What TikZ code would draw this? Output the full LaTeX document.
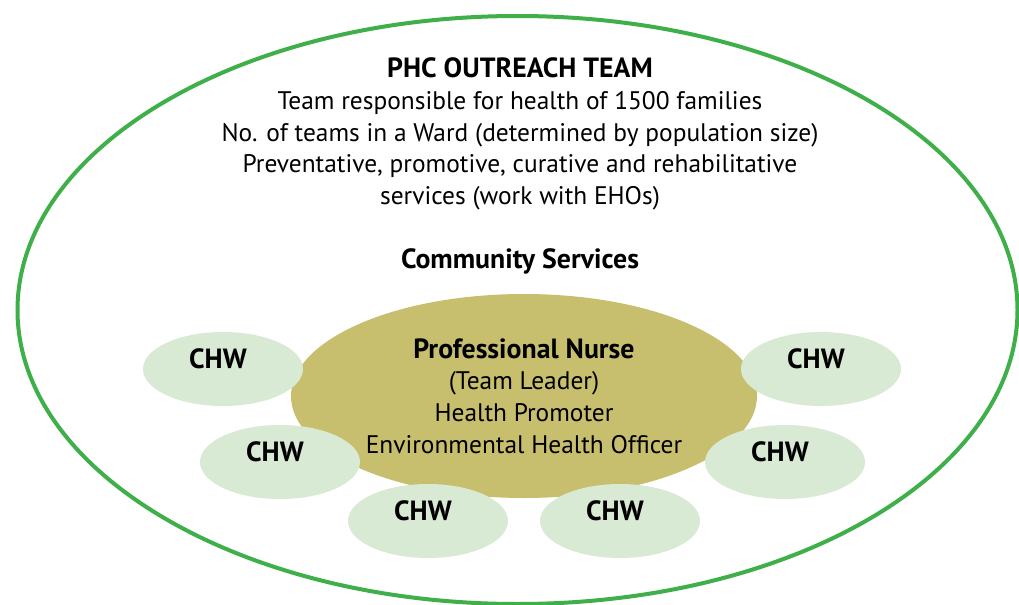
\documentclass[tikz,border=0pt]{standalone}
\usepackage{fontspec}
\setmainfont{PT Sans}
\usetikzlibrary{shapes.geometric}
\usetikzlibrary{positioning}

\definecolor{ringgreen}{RGB}{62,175,73}
\definecolor{nurseolive}{RGB}{199,190,110}
\definecolor{chwgreen}{RGB}{216,233,212}

\newcommand{\headfont}{\bfseries\fontsize{13.9}{15.75}\selectfont}

\begin{document}
\begin{tikzpicture}
    [x=0.5pt,y=-0.5pt,
    ring/.style={ellipse,draw=ringgreen,line width=2pt,inner sep=0pt,
      minimum width=500pt,minimum height=294pt},
    nurse/.style={ellipse,fill=nurseolive,inner sep=0pt,align=center,
      minimum width=233pt,minimum height=102pt,
      font=\fontsize{12.7}{15.9}\selectfont},
    chw/.style={ellipse,fill=chwgreen,inner sep=0pt,
      minimum width=80pt,minimum height=37pt},
    chwtext/.style={font=\headfont,inner sep=0pt,xshift=-2.5pt,yshift=5pt}]

    \useasboundingbox (0,0) rectangle (1019,605);

    \node[ring]    (outreach)  at (517.5,310) {};

    \node[align=center,font=\fontsize{12.7}{15.9}\selectfont]
                   (team)      at (520,134)
      {{\headfont PHC OUTREACH TEAM}\\
       Team responsible for health of 1500 families\\
       No. of teams in a Ward (determined by population size)\\
       Preventative, promotive, curative and rehabilitative\\
       services (work with EHOs)};

    \node[font=\headfont]
                   (community) at (520,261) {Community Services};

    \node[nurse]   (nurse)     at (524,396)
      {{\headfont Professional Nurse}\\
       (Team Leader)\\
       Health Promoter\\
       Environmental Health Officer};

    % CHW ellipses, labels sit a little left of and above centre
    \foreach \name/\pos in {nw/{(223,369)},w/{(280,462)},sw/{(428,521)},
                            se/{(620,521)},e/{(785,462)},ne/{(821,369)}} {
      \node[chw]     (chw \name)      at \pos {};
      \node[chwtext] (chw \name text) at (chw \name) {CHW};
    }

  \end{tikzpicture}
\end{document}
